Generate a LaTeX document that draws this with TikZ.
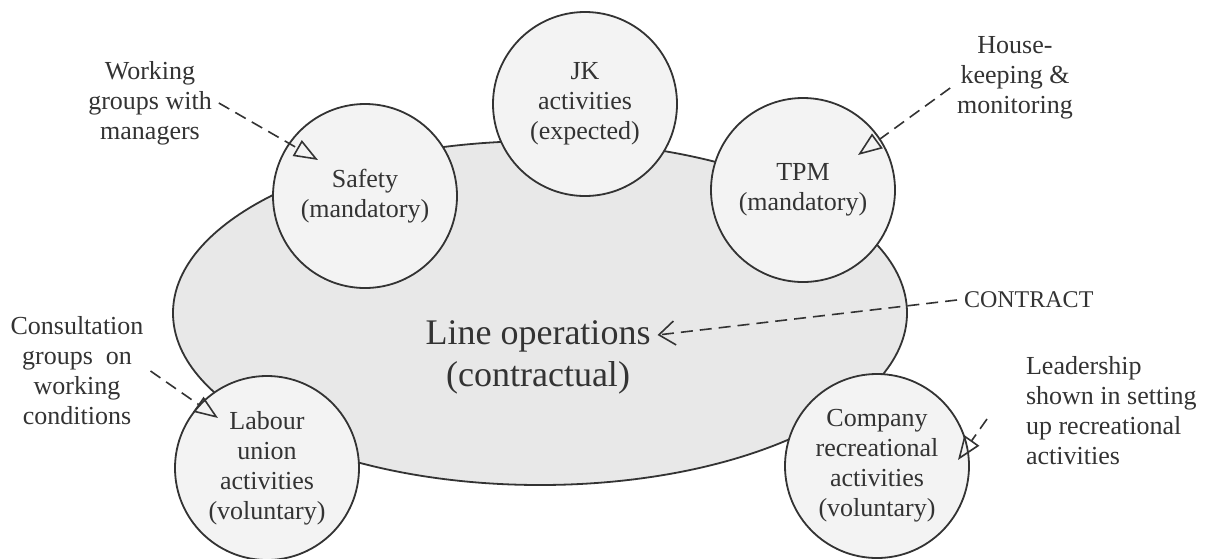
\documentclass[tikz,border=0pt]{standalone}
\usepackage{fontspec}
\setmainfont{Liberation Serif}
\usetikzlibrary{shapes.geometric,arrows.meta}
\definecolor{opfill}{HTML}{E8E8E8}
\definecolor{actfill}{HTML}{F3F3F3}
\definecolor{inkgray}{HTML}{333333}

\begin{document}
\begin{tikzpicture}[x=0.5pt, y=-0.5pt,
    core/.style={ellipse, draw=inkgray, line width=0.9pt, fill=opfill, minimum width=367pt, minimum height=172pt, inner sep=0pt},
    activity/.style={circle, draw=inkgray, line width=0.9pt, fill=actfill, minimum size=92pt, inner sep=0pt, align=center, font=\fontsize{13}{15}\selectfont, text=inkgray},
    bigtext/.style={align=center, font=\fontsize{18}{21}\selectfont, text=inkgray},
    note/.style={align=center, font=\fontsize{13}{15}\selectfont, text=inkgray},
    feed/.style={draw=inkgray, line width=0.8pt, dash pattern=on 6pt off 3.5pt, -{Triangle[open, length=12pt, width=9pt]}}]

\fill[white] (0,0) rectangle (1209,558);
\useasboundingbox (0,0) rectangle (1209,558);

% Line operations
\node[core] (opsarea) at (540,313) {};
\node[bigtext] (lineops) at (538,357) {Line operations\\(contractual)};

% Activities round the line
\node[activity] (safety) at (365,196) {Safety\\(mandatory)};
\node[activity] (jk) at (585,104) {JK\\activities\\(expected)};
\node[activity] (tpm) at (803,190) {TPM\\(mandatory)};
\node[activity] (labour) at (267,468) {Labour\\union\\activities\\(voluntary)};
\node[activity] (company) at (877,466) {Company\\recreational\\activities\\(voluntary)};

% Outside labels
\node[note] (workgrp) at (150,103) {Working\\groups with\\managers};
\node[note] (housekeep) at (1015,78) {House-\\keeping \&\\monitoring};
\node[note, anchor=west, font=\fontsize{12}{14}\selectfont] (contract) at (957,300) {CONTRACT};
\node[note] (consult) at (77,371) {Consultation\\groups\ \ on\\working\\conditions};
\node[note, align=left, anchor=west] (leader) at (1019,411) {Leadership\\shown in setting\\up recreational\\activities};

% Arrow tips
\coordinate (safetytip) at (318,160);
\coordinate (tpmtip) at (858,155);
\coordinate (labourtip) at (218,418);
\coordinate (companytip) at (958,460);

% Connections
\draw[feed] (workgrp.east) -- (safetytip);
\draw[feed] ([yshift=-5pt]housekeep.west) -- (tpmtip);
\draw[feed, -{Straight Barb[length=8pt, width=12pt]}] (contract.west) -- ([yshift=11pt]lineops.east);
\draw[feed] (consult.east) -- (labourtip);
\draw[feed] ([xshift=-16pt,yshift=-4pt]leader.west) -- (companytip);

\end{tikzpicture}
\end{document}
